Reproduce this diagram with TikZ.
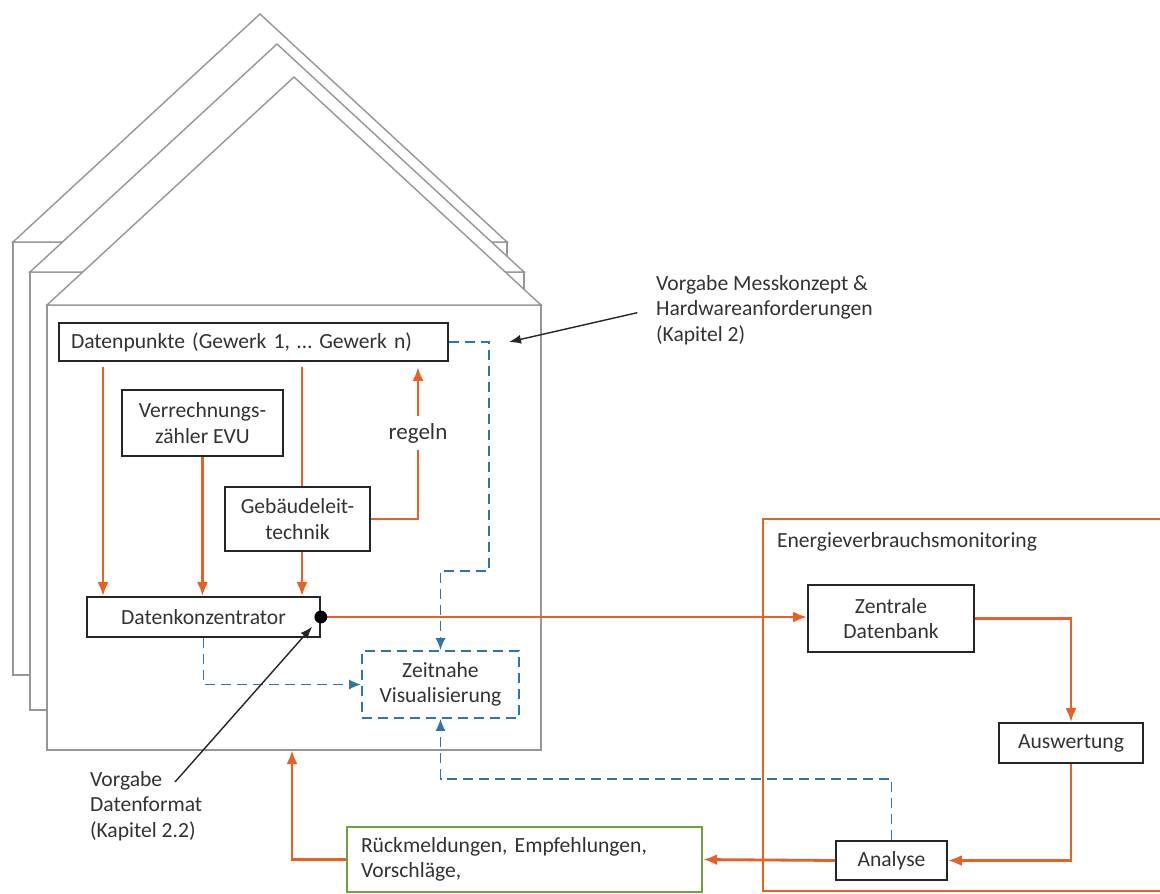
\documentclass[tikz,border=0pt]{standalone}
\usepackage{fontspec}
\setmainfont{Carlito}
\usetikzlibrary{positioning, arrows.meta}
\definecolor{ebOrange}{RGB}{234,96,36}
\definecolor{ebBlue}{RGB}{46,117,170}
\definecolor{ebGreen}{RGB}{112,160,64}
\definecolor{ebGray}{RGB}{150,150,150}
\tikzset{x=0.5pt, y=-0.5pt, >={Latex[length=7pt, width=5.5pt]},
	every node/.style={font=\fontsize{10.8}{12.8}\selectfont, text=black!80},
	box/.style={draw=black!85, line width=0.8pt, fill=white, align=center, inner sep=0pt},
	house/.style={draw=ebGray, line width=0.7pt, fill=white},
	flow/.style={draw=ebOrange, line width=1.4pt},
	view/.style={draw=ebBlue, line width=0.85pt, dash pattern=on 5pt off 3pt, >={Latex[length=6pt, width=5pt]}},
	hint/.style={draw=black!85, line width=0.7pt, ->, >={Latex[length=6pt, width=4.5pt]}}}

\begin{document}
\begin{tikzpicture}
	\useasboundingbox (0,0) rectangle (1160,893);

	% drei Gebaeude hintereinander
	\foreach \x/\y/\b in {13/242/675, 30/272/710, 47/305/750} {
		\filldraw[house] (\x,\b) rectangle (\x+494,\y);
		\filldraw[house] (\x,\y) -- (\x+247,\y-228) -- (\x+494,\y) -- cycle;
	}
	\coordinate (Haus) at (292,750);

	% Monitoring-Rahmen
	\coordinate (Monitoring) at (763,519);
	\draw[flow] (1160,519) -- (Monitoring) -- (763,891) -- (1160,891);
	\node[anchor=west] (Monitoring label) at (770,542) {Energieverbrauchsmonitoring};

	\node[box, minimum width=194.5pt, minimum height=19pt, text width=182.5pt, align=left] (Datenpunkte) at (253.5,342) {Datenpunkte (Gewerk 1, … Gewerk n)};
	\node[box, minimum width=80.5pt, minimum height=33pt] (Zaehler) at (202.5,423) {Verrechnungs-\\zähler EVU};
	\node[box, minimum width=72.5pt, minimum height=32pt] (GLT) at (297.5,519) {Gebäudeleit-\\technik};
	\node[box, minimum width=116.5pt, minimum height=20pt] (Konzentrator) at (203.5,617) {Datenkonzentrator};
	\node[box, view, minimum width=78.5pt, minimum height=33.5pt] (Zeitnahe Visualisierung) at (440.5,684.5) {Zeitnahe\\Visualisierung};
	\node[font=\fontsize{11.5}{13}\selectfont] (regeln) at (418,433) {regeln};

	\node[box, minimum width=83pt, minimum height=33.5pt] (Zentrale Datenbank) at (891,618.5) {Zentrale\\Datenbank};
	\node[box, minimum width=72pt, minimum height=20pt] (Auswertung) at (1071,743) {Auswertung};
	\node[box, minimum width=55.5pt, minimum height=19.5pt] (Analyse) at (891.5,860.5) {Analyse};
	\node[box, draw=ebGreen, line width=1.1pt, minimum width=177.5pt, minimum height=32.5pt, text width=163.5pt, align=left] (Rueckmeldung) at (524.5,859.5) {Rückmeldungen, Empfehlungen,\\Vorschläge,};

	\node[anchor=west, align=left] (Messkonzept) at (649,310) {Vorgabe Messkonzept \&\\Hardwareanforderungen\\(Kapitel 2)};
	\coordinate (Messkonzept tip) at (509,342);
	\node[anchor=west, align=left] (Datenformat) at (83,806) {Vorgabe\\Datenformat\\(Kapitel 2.2)};
	\coordinate (Datenformat tail) at (175,782);

	% Datenfluss im Gebaeude
	\draw[flow, ->, shorten <=2.5pt] (Datenpunkte.south -| 103,0) -- (Konzentrator.north -| 103,0);
	\draw[flow, ->] (Zaehler.south) -- (Zaehler.south |- Konzentrator.north);
	\draw[flow, shorten <=2.5pt] (Datenpunkte.south -| 302,0) -- (GLT.north -| 302,0);
	\draw[flow, ->] (GLT.south -| 302,0) -- (Konzentrator.north -| 302,0);
	\draw[flow] (GLT.east) -| (regeln.south);
	\draw[flow, ->, shorten >=2.5pt] (regeln.north) -- (Datenpunkte.south -| regeln.north);

	% Datenfluss zum Monitoring
	\draw[flow, ->] (Konzentrator.east) -- (Konzentrator.east -| Zentrale Datenbank.west);
	\fill (Konzentrator.east) circle (3.2pt);
	\draw[flow, ->] (Zentrale Datenbank.east) -| (Auswertung.north);
	\draw[flow, ->] (Auswertung.south) |- (Analyse.east);
	\draw[flow, ->] (Analyse.west) -- (Rueckmeldung.east);
	\draw[flow, ->] (Rueckmeldung.west) -| (Haus);

	% Visualisierung
	\draw[view, ->] (Datenpunkte.east) -| (489,571) -| (Zeitnahe Visualisierung.north);
	\draw[view, ->] (Konzentrator.south) |- (Zeitnahe Visualisierung.west);
	\draw[view, ->] (Analyse.north) -- (Analyse.north |- 0,779) -| (Zeitnahe Visualisierung.south);

	% Vorgaben
	\draw[hint, shorten <=6pt] (Messkonzept.west) -- (Messkonzept tip);
	\draw[hint, shorten >=6.5pt] (Datenformat tail) -- (Konzentrator.east);
\end{tikzpicture}
\end{document}
